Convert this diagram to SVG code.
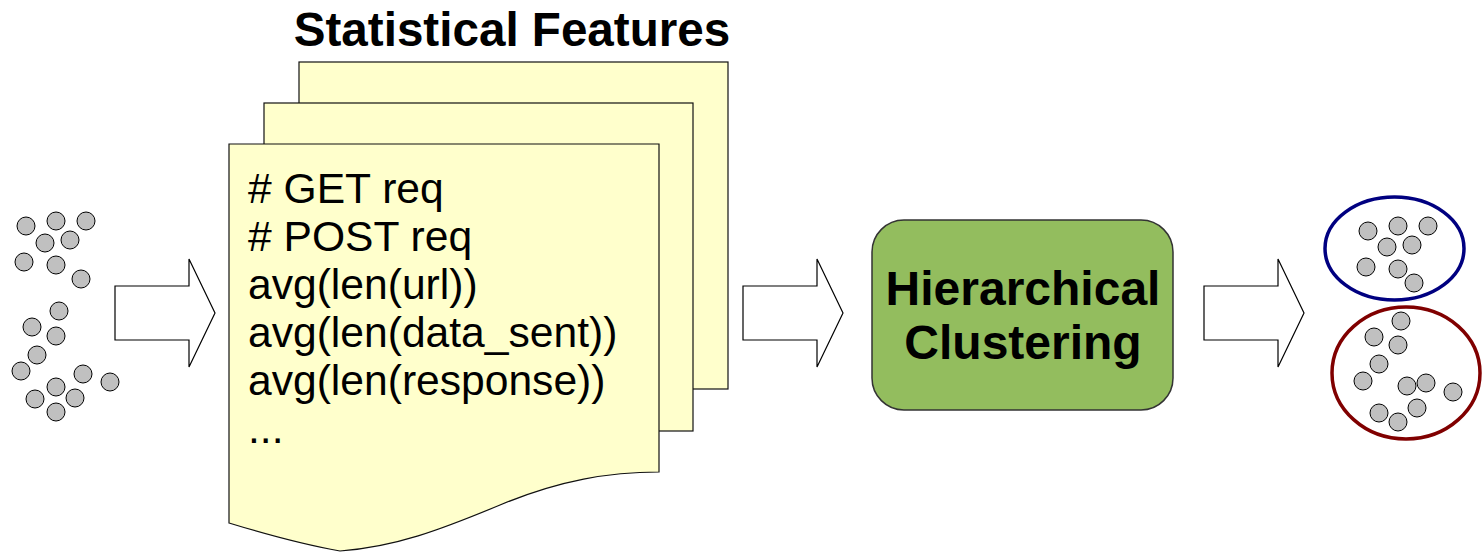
<svg xmlns="http://www.w3.org/2000/svg" width="1482" height="552" viewBox="0 0 1482 552">
  <style>
    .pt { fill: #c0c0c0; stroke: #000; stroke-width: 1; }
    .page { fill: #ffffcc; stroke: #111; stroke-width: 1.2; }
    .flow { fill: #fff; stroke: #000; stroke-width: 1.2; }
    .feat { font-family: "Liberation Sans", Arial, sans-serif; font-size: 42.6px; fill: #000; }
    .bold { font-family: "Liberation Sans", Arial, sans-serif; font-weight: bold; fill: #000; }
  </style>
  <defs>
    <circle id="dot" r="9"/>
    <path id="blockArrow" d="M0,0 H74 V-27 L100,27 L74,81 V54 H0 Z"/>
  </defs>
  <rect width="1482" height="552" fill="#fff"/>

  <!-- raw samples -->
  <g id="samples">
    <use href="#dot" class="pt" x="26" y="226"/>
    <use href="#dot" class="pt" x="56" y="221"/>
    <use href="#dot" class="pt" x="86" y="221"/>
    <use href="#dot" class="pt" x="45" y="243"/>
    <use href="#dot" class="pt" x="70" y="240"/>
    <use href="#dot" class="pt" x="24" y="262"/>
    <use href="#dot" class="pt" x="56" y="265"/>
    <use href="#dot" class="pt" x="81" y="279"/>
    <use href="#dot" class="pt" x="59" y="311"/>
    <use href="#dot" class="pt" x="32" y="327"/>
    <use href="#dot" class="pt" x="56" y="336"/>
    <use href="#dot" class="pt" x="37" y="355"/>
    <use href="#dot" class="pt" x="21" y="371"/>
    <use href="#dot" class="pt" x="83" y="374"/>
    <use href="#dot" class="pt" x="110" y="382"/>
    <use href="#dot" class="pt" x="56" y="387"/>
    <use href="#dot" class="pt" x="35" y="399"/>
    <use href="#dot" class="pt" x="75" y="398"/>
    <use href="#dot" class="pt" x="56" y="412"/>
  </g>

  <!-- feature documents -->
  <g id="features">
    <text class="bold" x="512" y="46" font-size="47.6" text-anchor="middle">Statistical Features</text>
    <rect class="page" x="299" y="62" width="429" height="327"/>
    <rect class="page" x="264" y="103" width="429" height="328"/>
    <path class="page" d="M229,144 H659 V472 C610,472 560,480 500,505 C440,530 395,547 340,551 C300,544 265,534 229,523 Z"/>
    <text class="feat" x="248" y="203"># GET req</text>
    <text class="feat" x="248" y="251"># POST req</text>
    <text class="feat" x="248" y="299">avg(len(url))</text>
    <text class="feat" x="248" y="347">avg(len(data_sent))</text>
    <text class="feat" x="248" y="395">avg(len(response))</text>
    <text class="feat" x="248" y="443">...</text>
  </g>

  <!-- clustering step -->
  <g id="clustering">
    <rect x="872" y="220" width="301" height="190" rx="32" ry="32" fill="#93bd5e" stroke="#333" stroke-width="1.5"/>
    <text class="bold" x="1023" y="305" font-size="48" text-anchor="middle">Hierarchical</text>
    <text class="bold" x="1023" y="359" font-size="48" text-anchor="middle">Clustering</text>
  </g>

  <!-- resulting clusters -->
  <g id="cluster-a">
    <ellipse cx="1394.5" cy="248.5" rx="69.5" ry="51.5" fill="none" stroke="#000080" stroke-width="3.5"/>
    <use href="#dot" class="pt" x="1368" y="231"/>
    <use href="#dot" class="pt" x="1398" y="226"/>
    <use href="#dot" class="pt" x="1428" y="226"/>
    <use href="#dot" class="pt" x="1387" y="247"/>
    <use href="#dot" class="pt" x="1412" y="245"/>
    <use href="#dot" class="pt" x="1366" y="267"/>
    <use href="#dot" class="pt" x="1398" y="269"/>
    <use href="#dot" class="pt" x="1414" y="283"/>
  </g>
  <g id="cluster-b">
    <ellipse cx="1406" cy="373" rx="74" ry="66" fill="none" stroke="#800000" stroke-width="3.5"/>
    <use href="#dot" class="pt" x="1401" y="321"/>
    <use href="#dot" class="pt" x="1374" y="337"/>
    <use href="#dot" class="pt" x="1398" y="345"/>
    <use href="#dot" class="pt" x="1379" y="364"/>
    <use href="#dot" class="pt" x="1363" y="381"/>
    <use href="#dot" class="pt" x="1407" y="386"/>
    <use href="#dot" class="pt" x="1426" y="383"/>
    <use href="#dot" class="pt" x="1453" y="392"/>
    <use href="#dot" class="pt" x="1379" y="413"/>
    <use href="#dot" class="pt" x="1417" y="408"/>
    <use href="#dot" class="pt" x="1398" y="422"/>
  </g>

  <!-- flow arrows between stages -->
  <g id="connectors">
    <use href="#blockArrow" class="flow" x="115" y="286"/>
    <use href="#blockArrow" class="flow" x="743" y="286"/>
    <use href="#blockArrow" class="flow" x="1204" y="286"/>
  </g>
</svg>
